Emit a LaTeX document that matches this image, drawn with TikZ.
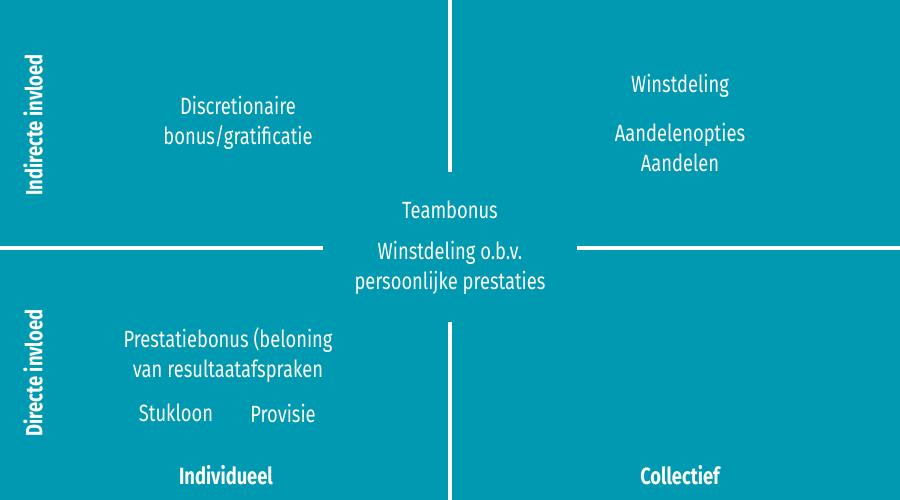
\documentclass[tikz,border=0pt]{standalone}
\usepackage{fontspec}
\setmainfont[FakeStretch=0.78]{Fira Sans}
\definecolor{bg}{RGB}{0,153,178}
\begin{document}
\begin{tikzpicture}[x=1pt,y=-1pt,
  lbl/.style={text=white,font=\fontsize{23.5}{30}\selectfont,align=center,inner sep=0},
  bl/.style={lbl,font=\fontsize{23.5}{30}\selectfont\bfseries},
  sep/.style={draw=white,line width=3.5pt}]
\fill[bg] (0,0) rectangle (900,500);
\useasboundingbox (0,0) rectangle (900,500);
\coordinate (v1) at (450,0); \coordinate (v2) at (450,172);
\coordinate (v3) at (450,322); \coordinate (v4) at (450,500);
\coordinate (h1) at (0,248); \coordinate (h2) at (323,248);
\coordinate (h3) at (577,248); \coordinate (h4) at (900,248);
\draw[sep] (v1)--(v2); \draw[sep] (v3)--(v4);
\draw[sep] (h1)--(h2); \draw[sep] (h3)--(h4);
\node[lbl] (a) at (238,123) {Discretionaire\\bonus/gratificatie};
\node[lbl] (b) at (680,86) {Winstdeling};
\node[lbl] (c) at (680,147) {Aandelenopties\\Aandelen};
\node[lbl] (d) at (450,210) {Teambonus};
\node[lbl] (e) at (450,268) {Winstdeling o.b.v.\\persoonlijke prestaties};
\node[lbl] (f) at (228,355) {Prestatiebonus (beloning\\van resultaatafspraken};
\node[lbl] (g) at (176,413) {Stukloon};
\node[lbl] (h) at (283,413) {Provisie};
\node[bl] (i) at (226,475) {Individueel};
\node[bl] (j) at (680,475) {Collectief};
\node[bl,rotate=90] (k) at (33,125) {Indirecte invloed};
\node[bl,rotate=90] (l) at (33,373) {Directe invloed};
\end{tikzpicture}
\end{document}
